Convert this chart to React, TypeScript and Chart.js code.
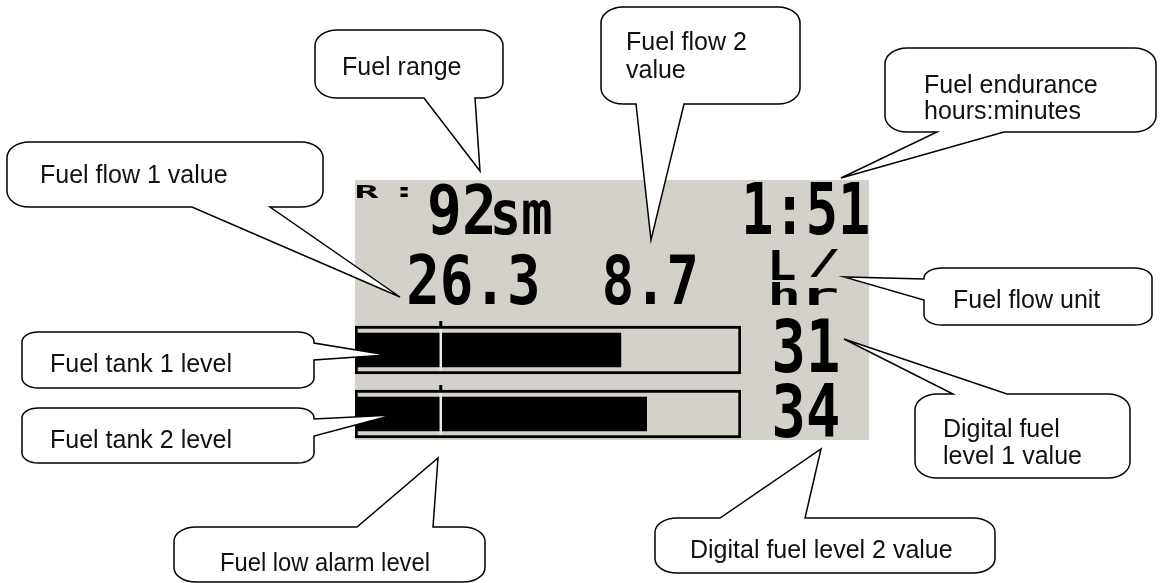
import React, { useEffect, useRef } from 'react';
import { Chart, registerables } from 'chart.js';

Chart.register(...registerables);

// ---- data ----
const tankLabels = ['Fuel tank 1', 'Fuel tank 2'];
const tankLevels = [31, 34];
const tankCapacity = [45, 45];
const lowAlarmLevel = 10;
const flowValues = ['26.3', '8.7'];
const flowUnitGlyphs = ['L', '/', 'h', 'r'];
const rangeGlyphs = ['R', ':'];
const rangeValue = '92';
const rangeUnit = 'sm';
const enduranceValue = '1:51';

const calloutLabels: string[][] = [
  ['Fuel range'],
  ['Fuel flow 2', 'value'],
  ['Fuel endurance', 'hours:minutes'],
  ['Fuel flow 1 value'],
  ['Fuel flow unit'],
  ['Fuel tank 1 level'],
  ['Fuel tank 2 level'],
  ['Digital fuel', 'level 1 value'],
  ['Fuel low alarm level'],
  ['Digital fuel level 2 value'],
];

// ---- layout ----
const W = 1160;
const H = 583;
const LCD_BG = '#d4d1ca';
const PANEL = { x: 355, y: 180, w: 514, h: 260 };
const LCD_FONT = '"DejaVu Sans Mono", "Liberation Mono", monospace';
const LABEL_FONT = '25px "Liberation Sans", Arial, sans-serif';

type Box = [number, number, number, number]; // x0,y0,x1,y1
const rangeGlyphBoxes: Box[] = [
  [357, 185, 379, 198],
  [400, 187, 408, 197],
];
const unitGlyphBoxes: Box[] = [
  [772, 250, 795, 280],
  [810, 250, 838, 277],
  [772, 282, 797, 305],
  [809, 288, 837, 305],
];
const lcdBoxes: { [k: string]: Box } = {
  rangeValue: [430, 183, 492, 235],
  rangeUnit: [494, 200, 551, 235],
  endurance: [746, 182, 868, 235],
  flow0: [409, 253, 537, 305],
  flow1: [605, 253, 695, 305],
  level0: [775, 318, 838, 373],
  level1: [775, 383, 838, 438],
};

type Side = 'top' | 'bottom' | 'left' | 'right';
interface CalloutLayout {
  box: [number, number, number, number];
  side: Side;
  base: [number, number];
  tip: [number, number];
  text: [number, number];
  lh?: number;
  r?: [number, number];
  maxW?: number;
}
const calloutLayout: CalloutLayout[] = [
  { box: [315, 30, 188, 68], side: 'bottom', base: [424, 475], tip: [480, 171], text: [342, 75] },
  { box: [601, 7, 199, 97], side: 'bottom', base: [636, 684], tip: [651, 240], text: [626, 50], lh: 28 },
  { box: [885, 48, 271, 84], side: 'bottom', base: [937, 1004], tip: [841, 178], text: [924, 93], lh: 26 },
  { box: [7, 142, 316, 65], side: 'bottom', base: [192, 270], tip: [400, 297], text: [40, 183] },
  { box: [924, 268, 228, 57], side: 'left', base: [279, 300], tip: [844, 277], text: [953, 308], r: [18, 10] },
  { box: [22, 332, 292, 56], side: 'right', base: [343, 360], tip: [387, 355], text: [50, 372], r: [16, 10] },
  { box: [22, 408, 292, 55], side: 'right', base: [419, 436], tip: [393, 415], text: [50, 448], r: [16, 10] },
  { box: [915, 394, 215, 84], side: 'top', base: [953, 1007], tip: [844, 339], text: [943, 437], lh: 27 },
  { box: [174, 527, 311, 55], side: 'top', base: [357, 433], tip: [438, 458], text: [220, 571], maxW: 210 },
  { box: [655, 518, 340, 55], side: 'top', base: [720, 805], tip: [821, 449], text: [690, 558] },
];

function fitText(ctx: CanvasRenderingContext2D, text: string, b: Box) {
  const [x0, y0, x1, y1] = b;
  ctx.save();
  ctx.font = `bold 100px ${LCD_FONT}`;
  ctx.textAlign = 'left';
  ctx.textBaseline = 'alphabetic';
  const m = ctx.measureText(text);
  const left = m.actualBoundingBoxLeft;
  const right = m.actualBoundingBoxRight;
  const asc = m.actualBoundingBoxAscent;
  const desc = m.actualBoundingBoxDescent;
  const sx = (x1 - x0) / (left + right);
  const sy = (y1 - y0) / (asc + desc);
  ctx.translate(x0 + left * sx, y0 + asc * sy);
  ctx.scale(sx, sy);
  ctx.fillStyle = '#000';
  ctx.fillText(text, 0, 0);
  ctx.restore();
}

function bubblePath(ctx: CanvasRenderingContext2D, c: CalloutLayout) {
  const [x, y, w, h] = c.box;
  const rx = c.r ? c.r[0] : Math.min(22, w * 0.12);
  const ry = c.r ? c.r[1] : Math.min(16, h * 0.26);
  const [tx, ty] = c.tip;
  const [b1, b2] = c.base;
  ctx.beginPath();
  ctx.moveTo(x + rx, y);
  if (c.side === 'top') { ctx.lineTo(b1, y); ctx.lineTo(tx, ty); ctx.lineTo(b2, y); }
  ctx.lineTo(x + w - rx, y);
  ctx.ellipse(x + w - rx, y + ry, rx, ry, 0, -Math.PI / 2, 0);
  if (c.side === 'right') { ctx.lineTo(x + w, b1); ctx.lineTo(tx, ty); ctx.lineTo(x + w, b2); }
  ctx.lineTo(x + w, y + h - ry);
  ctx.ellipse(x + w - rx, y + h - ry, rx, ry, 0, 0, Math.PI / 2);
  if (c.side === 'bottom') { ctx.lineTo(b2, y + h); ctx.lineTo(tx, ty); ctx.lineTo(b1, y + h); }
  ctx.lineTo(x + rx, y + h);
  ctx.ellipse(x + rx, y + h - ry, rx, ry, 0, Math.PI / 2, Math.PI);
  if (c.side === 'left') { ctx.lineTo(x, b2); ctx.lineTo(tx, ty); ctx.lineTo(x, b1); }
  ctx.lineTo(x, y + ry);
  ctx.ellipse(x + rx, y + ry, rx, ry, 0, Math.PI, Math.PI * 1.5);
  ctx.closePath();
}

const fuelDisplayPlugin = {
  id: 'fuelDisplay',
  beforeDraw(chart: any) {
    const ctx: CanvasRenderingContext2D = chart.ctx;
    ctx.save();
    ctx.fillStyle = '#ffffff';
    ctx.fillRect(0, 0, chart.width, chart.height);
    ctx.fillStyle = LCD_BG;
    ctx.fillRect(PANEL.x, PANEL.y, PANEL.w, PANEL.h);
    ctx.restore();
    rangeGlyphs.forEach((g, i) => fitText(ctx, g, rangeGlyphBoxes[i]));
    fitText(ctx, rangeValue, lcdBoxes.rangeValue);
    fitText(ctx, rangeUnit, lcdBoxes.rangeUnit);
    fitText(ctx, enduranceValue, lcdBoxes.endurance);
    flowValues.forEach((v, i) => fitText(ctx, v, lcdBoxes['flow' + i]));
    flowUnitGlyphs.forEach((g, i) => fitText(ctx, g, unitGlyphBoxes[i]));
    tankLevels.forEach((v, i) => fitText(ctx, String(v), lcdBoxes['level' + i]));
  },
  afterDatasetsDraw(chart: any) {
    const ctx: CanvasRenderingContext2D = chart.ctx;
    const x = chart.scales.x.getPixelForValue(lowAlarmLevel);
    const meta = chart.getDatasetMeta(1);
    ctx.save();
    meta.data.forEach((el: any) => {
      const p = el.getProps(['y', 'height'], true);
      const top = p.y - p.height / 2;
      ctx.fillStyle = '#000';
      ctx.fillRect(x - 1.5, top - 5, 3, 6);
      ctx.fillStyle = '#e9e9e6';
      ctx.fillRect(x - 1.25, top + 3, 2.5, p.height - 6);
    });
    ctx.restore();
  },
  afterDraw(chart: any) {
    const ctx: CanvasRenderingContext2D = chart.ctx;
    ctx.save();
    calloutLayout.forEach((c, i) => {
      bubblePath(ctx, c);
      ctx.fillStyle = '#ffffff';
      ctx.fill();
      ctx.strokeStyle = '#000';
      ctx.lineWidth = 1.5;
      ctx.lineJoin = 'miter';
      ctx.stroke();
      ctx.fillStyle = '#111';
      ctx.font = LABEL_FONT;
      ctx.textAlign = 'left';
      ctx.textBaseline = 'alphabetic';
      calloutLabels[i].forEach((line, j) => {
        const y = c.text[1] + j * (c.lh || 26);
        if (c.maxW) ctx.fillText(line, c.text[0], y, c.maxW);
        else ctx.fillText(line, c.text[0], y);
      });
    });
    ctx.restore();
  },
};

export default function App() {
  const canvasRef = useRef<HTMLCanvasElement | null>(null);

  useEffect(() => {
    document.body.style.margin = '0';
    const canvas = canvasRef.current;
    if (!canvas) return;
    const chart = new Chart(canvas, {
      type: 'bar',
      data: {
        labels: tankLabels,
        datasets: [
          {
            label: 'Fuel level',
            data: tankLevels,
            backgroundColor: '#000000',
            borderWidth: 0,
            barThickness: 34,
            grouped: false,
            order: 0,
          } as any,
          {
            label: 'Tank capacity',
            data: tankCapacity,
            backgroundColor: LCD_BG,
            borderColor: '#000000',
            borderWidth: 3,
            borderSkipped: false,
            barThickness: 48,
            grouped: false,
            order: 1,
          } as any,
        ],
      },
      options: {
        indexAxis: 'y',
        responsive: false,
        animation: false,
        devicePixelRatio: 1,
        layout: { padding: { left: 355, right: W - 741, top: 318, bottom: H - 446 } },
        scales: {
          x: { type: 'linear', min: 0, max: 45, display: false, grid: { display: false } },
          y: { type: 'category', display: false, grid: { display: false } },
        },
        plugins: {
          legend: { display: false },
          tooltip: { enabled: false },
          title: { display: false },
        },
      },
      plugins: [fuelDisplayPlugin],
    });
    return () => chart.destroy();
  }, []);

  return (
    <div style={{ width: W, height: H, position: 'relative' }}>
      <canvas ref={canvasRef} width={W} height={H} style={{ display: 'block', width: W, height: H }} />
    </div>
  );
}
